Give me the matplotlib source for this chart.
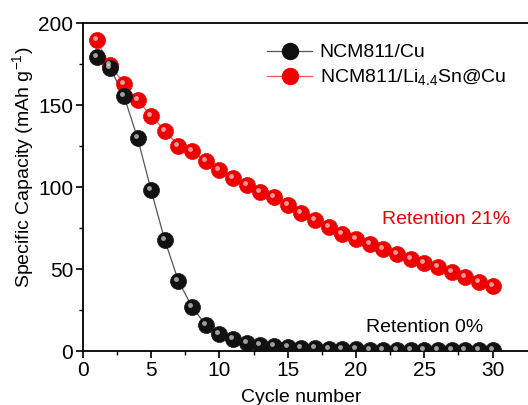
import numpy as np
import matplotlib
matplotlib.use("Agg")
import matplotlib.pyplot as plt
from matplotlib.transforms import offset_copy

plt.rcParams['font.family'] = ['Liberation Sans', 'DejaVu Sans']
plt.rcParams['mathtext.fontset'] = 'custom'
plt.rcParams['mathtext.rm'] = 'Liberation Sans'
plt.rcParams['mathtext.it'] = 'Liberation Sans'
plt.rcParams['mathtext.default'] = 'regular'

cycles = np.arange(1, 31)
cap_cu = [179.3, 172.6, 155.7, 130.0, 98.0, 67.6, 42.6, 27.0, 15.8, 10.6,
          7.5, 5.0, 3.5, 3.0, 2.6, 2.2, 1.8, 1.4, 1.2, 1.0,
          0.9, 0.8, 0.8, 0.7, 0.7, 0.6, 0.6, 0.6, 0.5, 0.5]
cap_lisn = [189.4, 174.4, 163.0, 152.9, 143.6, 134.4, 125.3, 121.8, 115.7, 110.7,
            105.6, 101.5, 97.0, 94.0, 88.9, 84.3, 79.8, 75.5, 71.7, 68.4,
            65.4, 62.3, 59.5, 56.4, 53.8, 51.2, 48.1, 45.3, 42.2, 39.6]
labels = ["NCM811/Cu", "NCM811/Li$_{4.4}$Sn@Cu"]

fig = plt.figure(figsize=(5.28, 4.05), dpi=100)
ax = fig.add_axes([0.157, 0.133, 0.843, 0.81])

ms = 11.5
# red first so black sits on top where they overlap
for y, col, lc, lab in [(cap_lisn, "#ee0000", "#ff5050", labels[1]),
                        (cap_cu, "#111111", "#555555", labels[0])]:
    ax.plot(cycles, y, "-", color=lc, lw=0.9, zorder=2)
    ax.plot(cycles, y, "o", color=col, ms=ms, mec=col, mew=0.5, zorder=3)
    # little glossy highlight so the markers look like spheres
    tr = offset_copy(ax.transData, fig=fig, x=-2.0, y=2.0, units="dots")
    ax.plot(cycles, y, "o", color="white", ms=3.5, mew=0, alpha=0.6,
            transform=tr, zorder=4)

# legend handles
h_cu, = ax.plot([], [], "-o", color="#555555", mfc="#111111", mec="#111111",
                ms=ms, lw=0.9)
h_li, = ax.plot([], [], "-o", color="#ff5050", mfc="#ee0000", mec="#ee0000",
                ms=ms, lw=0.9)
ax.legend([h_cu, h_li], labels, loc="upper left", bbox_to_anchor=(0.375, 0.99),
          frameon=False, fontsize=14, handlelength=2.3, handletextpad=0.4,
          labelspacing=0.3)

ax.text(26.6, 80, "Retention 21%", color="#ee0000", fontsize=14,
        ha="center", va="center")
ax.text(25.0, 14.6, "Retention 0%", color="black", fontsize=14,
        ha="center", va="center")

ax.set_xlim(0, 32.6)
ax.set_ylim(0, 200)
ax.set_xticks([0, 5, 10, 15, 20, 25, 30])
ax.set_yticks([0, 50, 100, 150, 200])
ax.set_xticks(np.arange(2.5, 32, 5), minor=True)
ax.set_yticks([25, 75, 125, 175], minor=True)
ax.tick_params(direction="out", labelsize=15, width=1.2, length=5, pad=2)
ax.tick_params(which="minor", direction="out", width=1, length=3)
ax.spines["right"].set_visible(False)
for s in ["left", "bottom", "top"]:
    ax.spines[s].set_linewidth(1.3)
ax.set_xlabel("Cycle number", fontsize=14)
ax.set_ylabel("Specific Capacity (mAh g$^{-1}$)", fontsize=14)
ax.xaxis.set_label_coords(0.49, -0.115)
ax.yaxis.set_label_coords(-0.105, 0.56)

fig.savefig("out.png", dpi=100)
